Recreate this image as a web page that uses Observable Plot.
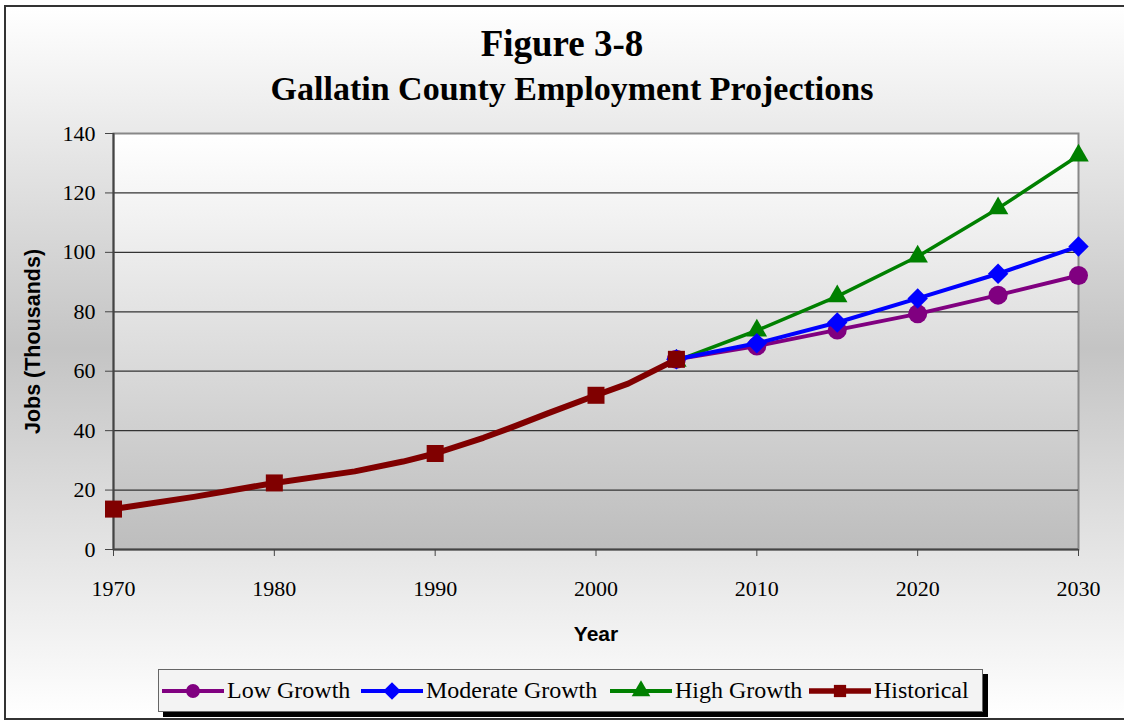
<!DOCTYPE html>
<html>
<head>
<meta charset="utf-8">
<script src="https://cdn.jsdelivr.net/npm/d3@7"></script>
<script src="https://cdn.jsdelivr.net/npm/@observablehq/plot@0.6"></script>
<style>
  html, body { margin: 0; padding: 0; width: 1124px; height: 720px; overflow: hidden; background: #fff; }
  #frame { position: absolute; left: 4px; top: 5px; width: 1140px; height: 711px; border: 2px solid #333;
           background: linear-gradient(to bottom, #ffffff 0%, #c4c4c4 48%, #ffffff 100%); }
  .title { position: absolute; width: 1124px; text-align: center; font-family: "Liberation Serif", serif; font-weight: bold; color: #000; }
  #t1 { left: 0; top: 22px; font-size: 37px; line-height: 44px; }
  #t2 { left: 10px; top: 69px; font-size: 34px; line-height: 40px; }
  #chart { position: absolute; left: 0; top: 115px; }
  #legend { position: absolute; left: 158px; top: 669px; width: 825px; height: 43px; box-sizing: border-box;
            background: #f3f3f3; border: 1px solid #666; box-shadow: 5px 5px 0 #000; }
  .item { position: absolute; top: 0; height: 41px; display: flex; align-items: center; }
  .item span { font-family: "Liberation Serif", serif; font-size: 24px; color: #000; margin-left: 3px; white-space: nowrap; }
</style>
</head>
<body>
<div id="frame"></div>
<div class="title" id="t1">Figure 3-8</div>
<div class="title" id="t2">Gallatin County Employment Projections</div>
<div id="chart"></div>
<div id="legend"></div>
<script>
// ---- data ----
const projectionYears = [2005, 2010, 2015, 2020, 2025, 2030];
const lowGrowth      = [64.0, 68.5, 73.9, 79.3, 85.6, 92.2];
const moderateGrowth = [64.0, 69.4, 76.4, 84.5, 92.8, 102.0];
const highGrowth     = [63.5, 73.7, 85.2, 98.6, 114.8, 132.6];

const historicalYears = [1970, 1975, 1980, 1985, 1988, 1990, 1993, 1995, 1997, 2000, 2002, 2005];
const historical      = [13.6, 17.7, 22.4, 26.3, 29.6, 32.3, 37.6, 41.6, 45.8, 51.9, 55.8, 64.0];
const historicalMarkerYears = [1970, 1980, 1990, 2000, 2005];

const xTicks = [1970, 1980, 1990, 2000, 2010, 2020, 2030];
const yTicks = [0, 20, 40, 60, 80, 100, 120, 140];

const seriesNames = ["Low Growth", "Moderate Growth", "High Growth", "Historical"];
const seriesColors = ["#800080", "#0000ff", "#008000", "#800000"];

// ---- tables ----
const proj = (vals, name) => projectionYears.map((y, i) => ({year: y, value: vals[i], series: name}));
const lowData = proj(lowGrowth, "Low Growth");
const modData = proj(moderateGrowth, "Moderate Growth");
const highData = proj(highGrowth, "High Growth");
const histData = historicalYears.map((y, i) => ({year: y, value: historical[i], series: "Historical"}));
const histMarkers = histData.filter(d => historicalMarkerYears.includes(d.year));

const W = 1124, H = 540;
const chart = Plot.plot({
  width: W, height: H,
  marginLeft: 113, marginRight: 46, marginTop: 18, marginBottom: 106,
  style: {fontFamily: "Liberation Serif, serif", fontSize: "22px", color: "#000", background: "transparent", overflow: "visible"},
  x: {domain: [1970, 2030]},
  y: {domain: [0, 140]},
  marks: [
    Plot.frame({fill: "url(#plotGrad)", stroke: "#888", strokeWidth: 2}),
    Plot.ruleY(yTicks.filter(d => d > 0 && d < 140), {stroke: "#333", strokeWidth: 1.2}),
    Plot.ruleX([1970], {stroke: "#444", strokeWidth: 2}),
    Plot.ruleY([0], {stroke: "#444", strokeWidth: 2}),
    Plot.axisY({ticks: yTicks, tickSize: 8, tickPadding: 10, tickFormat: d => String(d), label: null, stroke: "#444"}),
    Plot.axisX({ticks: xTicks, tickSize: 7, tickPadding: 24, tickFormat: d => String(d), label: null, stroke: "#444"}),
    Plot.text(["Jobs (Thousands)"], {text: d => d, frameAnchor: "left", textAnchor: "middle", dx: -80, rotate: -90,
      fontFamily: "Liberation Sans, Arial, sans-serif", fontWeight: "bold", fontSize: 21.5, fill: "#000"}),
    Plot.text(["Year"], {text: d => d, frameAnchor: "bottom", dy: 91,
      fontFamily: "Liberation Sans, Arial, sans-serif", fontWeight: "bold", fontSize: 21, fill: "#000"}),
    // series
    Plot.line(highData, {x: "year", y: "value", stroke: seriesColors[2], strokeWidth: 3.5}),
    Plot.dot(highData, {x: "year", y: "value", symbol: "triangle", r: 7.6, fill: seriesColors[2], stroke: "none"}),
    Plot.line(lowData, {x: "year", y: "value", stroke: seriesColors[0], strokeWidth: 4}),
    Plot.dot(lowData, {x: "year", y: "value", symbol: "circle", r: 9.5, fill: seriesColors[0], stroke: "none"}),
    Plot.line(modData, {x: "year", y: "value", stroke: seriesColors[1], strokeWidth: 4}),
    Plot.dot(modData, {x: "year", y: "value", symbol: "diamond2", r: 9.2, fill: seriesColors[1], stroke: "none"}),
    Plot.line(histData, {x: "year", y: "value", stroke: seriesColors[3], strokeWidth: 6}),
    Plot.dot(histMarkers, {x: "year", y: "value", symbol: "square", r: 9.6, fill: seriesColors[3], stroke: "none"})
  ]
});

// plot-area gradient
const defs = d3.select(chart).insert("defs", ":first-child");
const g = defs.append("linearGradient").attr("id", "plotGrad").attr("x1", 0).attr("y1", 0).attr("x2", 0).attr("y2", 1);
g.append("stop").attr("offset", "0%").attr("stop-color", "#ffffff");
g.append("stop").attr("offset", "100%").attr("stop-color", "#bdbdbd");
document.getElementById("chart").appendChild(chart);

// legend
const symbolFor = {"Low Growth": d3.symbolCircle, "Moderate Growth": d3.symbolDiamond2, "High Growth": d3.symbolTriangle, "Historical": d3.symbolSquare};
const symbolSize = {"Low Growth": 150, "Moderate Growth": 200, "High Growth": 150, "Historical": 150};
const itemLeft = [3, 202, 451, 650];   // relative to legend box
const legend = d3.select("#legend");
seriesNames.forEach((name, i) => {
  const item = legend.append("div").attr("class", "item").style("left", itemLeft[i] + "px");
  const s = item.append("svg").attr("width", 62).attr("height", 24);
  s.append("line").attr("x1", 0).attr("x2", 62).attr("y1", 12).attr("y2", 12)
    .attr("stroke", seriesColors[i]).attr("stroke-width", name === "Historical" ? 5.5 : 4);
  s.append("path").attr("d", d3.symbol(symbolFor[name], symbolSize[name])()).attr("transform", "translate(31,12)")
    .attr("fill", seriesColors[i]);
  item.append("span").text(name);
});
</script>
</body>
</html>
